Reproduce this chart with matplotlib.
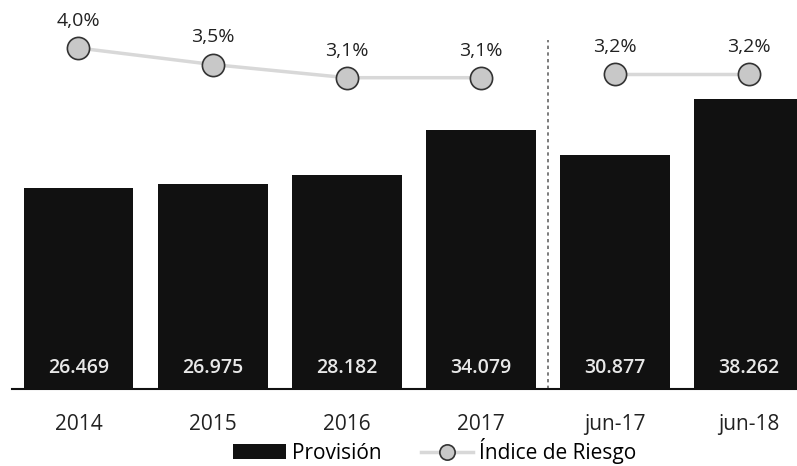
import matplotlib
matplotlib.use("Agg")
import matplotlib.pyplot as plt
from matplotlib.patches import Patch
from matplotlib.lines import Line2D
import numpy as np

categories = ["2014", "2015", "2016", "2017", "jun-17", "jun-18"]
provision = [26469, 26975, 28182, 34079, 30877, 38262]
provision_labels = ["26.469", "26.975", "28.182", "34.079", "30.877", "38.262"]
indice = [4.0, 3.5, 3.1, 3.1, 3.2, 3.2]
indice_labels = ["4,0%", "3,5%", "3,1%", "3,1%", "3,2%", "3,2%"]

plt.rcParams['font.family'] = ['Open Sans', 'DejaVu Sans']

W, H = 797, 466
fig = plt.figure(figsize=(W/100, H/100), dpi=100)
ax = fig.add_axes([12/W, 1 - 389/H, 1 - 12/W, 389/H])
x = np.arange(len(categories))
ax.bar(x, provision, width=0.82, color="#111111", zorder=2)
ax.set_xlim(-0.496, 5.36)
ax.set_ylim(0, 389/0.00759)
for s in ["top", "right", "left"]:
    ax.spines[s].set_visible(False)
ax.spines["bottom"].set_linewidth(1.5)
ax.spines["bottom"].set_color("#111111")
ax.set_yticks([])
ax.set_xticks(x)
ax.set_xticklabels(categories, fontsize=15, color="#222222")
ax.tick_params(axis="x", length=0, pad=18)
for xi, lab in zip(x, provision_labels):
    ax.text(xi, 21/0.00759, lab, ha="center", va="center", color="#e8e8e8",
            fontsize=14, fontweight="semibold", zorder=3)

ax2 = ax.twinx()
ax2.set_ylim(4.0 - (389-48)/33, 4.0 + 48/33)
ax2.set_axis_off()
line_kw = dict(color="#d8d8d8", lw=2.5, marker="o", markersize=16,
               markerfacecolor="#c8c8c8", markeredgecolor="#333333", markeredgewidth=1.2)
ax2.plot(x[:4], indice[:4], **line_kw)
ax2.plot(x[4:], indice[4:], **line_kw)
for xi, v, lab in zip(x, indice, indice_labels):
    ax2.annotate(lab, (xi, v), xytext=(0, 13), textcoords="offset points",
                 ha="center", va="bottom", fontsize=14, color="#222222")

ax.plot([3.5, 3.5], [0, (389-40)/0.00759], color="#666666", lw=1.2,
        linestyle=(0, (2, 2)), zorder=1)

leg_line = dict(line_kw)
leg_line["markersize"] = 11
handles = [Patch(facecolor="#111111"),
           Line2D([], [], **leg_line)]
fig.legend(handles, ["Provisión", "Índice de Riesgo"], loc="center",
           bbox_to_anchor=(435/W, 1 - 451/H), ncol=2, frameon=False,
           fontsize=15, handlelength=2.5, columnspacing=1.9, handletextpad=0.3,
           borderpad=0.2)

fig.savefig("out.png", dpi=100)
